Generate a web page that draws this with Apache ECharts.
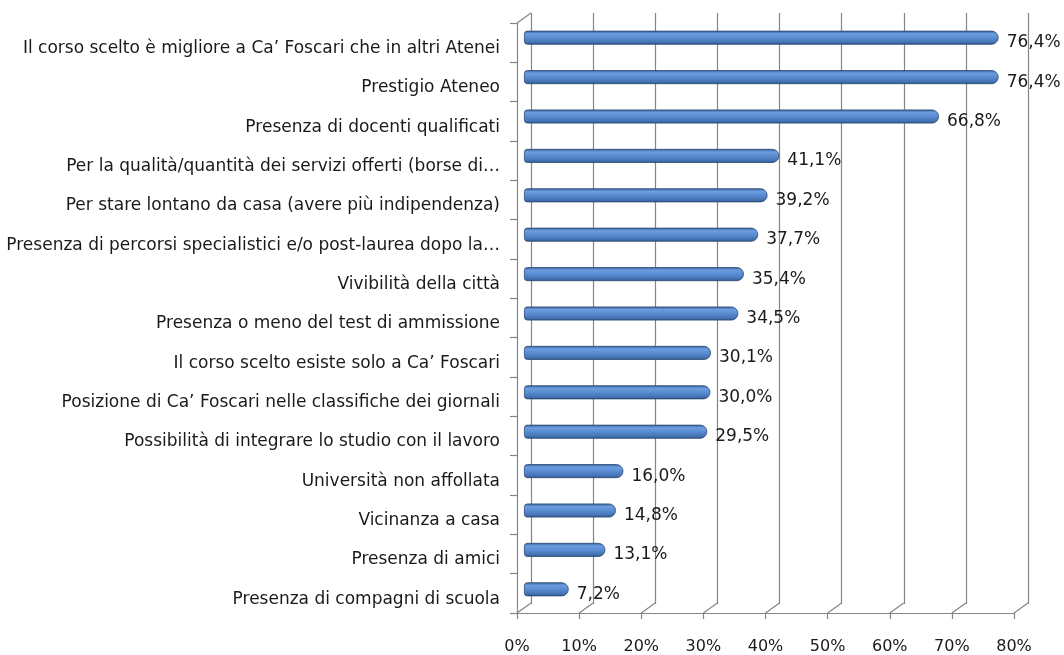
<!DOCTYPE html>
<html>
<head>
<meta charset="utf-8">
<title>Motivi della scelta di Ca' Foscari</title>
<script src="https://cdn.jsdelivr.net/npm/echarts@6/dist/echarts.min.js"></script>
<style>
  html, body { margin: 0; padding: 0; background: #fff; }
  #chart { width: 1064px; height: 655px; }
</style>
</head>
<body>
<div id="chart"></div>
<script>
// categories, top to bottom
const categories = [
    'Il corso scelto è migliore a Ca\u2019 Foscari che in altri Atenei',
    'Prestigio Ateneo',
    'Presenza di docenti qualificati',
    'Per la qualità/quantità dei servizi offerti (borse di…',
    'Per stare lontano da casa (avere più indipendenza)',
    'Presenza di percorsi specialistici e/o post-laurea dopo la…',
    'Vivibilità della città',
    'Presenza o meno del test di ammissione',
    'Il corso scelto esiste solo a Ca\u2019 Foscari',
    'Posizione di Ca\u2019 Foscari nelle classifiche dei giornali',
    'Possibilità di integrare lo studio con il lavoro',
    'Università non affollata',
    'Vicinanza a casa',
    'Presenza di amici',
    'Presenza di compagni di scuola'
];

// percentage of respondents
const values = [76.4, 76.4, 66.8, 41.1, 39.2, 37.7, 35.4, 34.5, 30.1, 30.0, 29.5, 16.0, 14.8, 13.1, 7.2];

// x axis ticks (percent)
const xTicks = [0, 10, 20, 30, 40, 50, 60, 70, 80];

const chart = echarts.init(document.getElementById('chart'));

const axisGray = '#858585';
const textColor = '#1a1a1a';
const fontFamily = 'DejaVu Sans, Verdana, sans-serif';
// 3D depth offset of the back wall
const depthX = 14;
const depthY = -10;

const barGradient = new echarts.graphic.LinearGradient(0, 0, 0, 1, [
    { offset: 0, color: '#345b91' },
    { offset: 0.22, color: '#6c9de0' },
    { offset: 0.5, color: '#5a8cd1' },
    { offset: 0.82, color: '#4574b5' },
    { offset: 1, color: '#2e5284' }
]);

const hiddenValueAxis = (gridIndex, showSplit) => ({
    type: 'value',
    gridIndex: gridIndex,
    min: 0,
    max: 80,
    interval: 10,
    axisLine: { show: false },
    axisTick: { show: false },
    axisLabel: { show: false },
    splitLine: { show: showSplit, lineStyle: { color: axisGray, width: 1.2 } }
});

const hiddenCategoryAxis = (gridIndex) => ({
    type: 'category',
    gridIndex: gridIndex,
    data: categories,
    inverse: true,
    show: false
});

const option = {
    backgroundColor: '#ffffff',
    animation: false,
    textStyle: { fontFamily: fontFamily },
    grid: [
        // front (axes and labels)
        { left: 517, top: 23, width: 497, height: 591 },
        // back wall (gridlines)
        { left: 517 + depthX, top: 23 + depthY, width: 497, height: 591 },
        // bars, halfway in depth
        { left: 524, top: 18, width: 497, height: 591 }
    ],
    xAxis: [
        {
            type: 'value',
            gridIndex: 0,
            min: 0,
            max: 80,
            interval: 10,
            axisLine: { show: true, lineStyle: { color: axisGray, width: 1.2 } },
            axisTick: { show: true, length: 6, lineStyle: { color: axisGray, width: 1.2 } },
            axisLabel: {
                color: textColor,
                fontSize: 16,
                margin: 26,
                formatter: '{value}%'
            },
            splitLine: { show: false }
        },
        hiddenValueAxis(1, true),
        hiddenValueAxis(2, false)
    ],
    yAxis: [
        {
            type: 'category',
            gridIndex: 0,
            data: categories,
            inverse: true,
            axisLine: { show: true, lineStyle: { color: axisGray, width: 1.2 } },
            axisTick: { show: true, length: 7, lineStyle: { color: axisGray, width: 1.2 } },
            axisLabel: {
                color: textColor,
                fontSize: 17,
                margin: 17,
                verticalAlign: 'top',
                lineHeight: 12
            }
        },
        hiddenCategoryAxis(1),
        hiddenCategoryAxis(2)
    ],
    series: [
        {
            // floor diagonals joining the front axis with the back wall
            type: 'custom',
            xAxisIndex: 0,
            yAxisIndex: 0,
            silent: true,
            z: 1,
            data: xTicks,
            renderItem: (params, api) => {
                const cs = params.coordSys;
                const x = api.coord([api.value(0), categories[0]])[0];
                const y = cs.y + cs.height;
                const children = [{
                    type: 'line',
                    shape: { x1: x, y1: y, x2: x + depthX, y2: y + depthY },
                    style: { stroke: axisGray, lineWidth: 1.2 }
                }];
                if (params.dataIndex === 0) {
                    children.push({
                        type: 'line',
                        shape: { x1: x, y1: cs.y, x2: x + depthX, y2: cs.y + depthY },
                        style: { stroke: axisGray, lineWidth: 1.2 }
                    });
                }
                return { type: 'group', children: children };
            }
        },
        {
            type: 'bar',
            xAxisIndex: 2,
            yAxisIndex: 2,
            data: values,
            barWidth: 14,
            z: 3,
            itemStyle: {
                color: barGradient,
                borderColor: '#2b4a73',
                borderWidth: 0.8,
                borderRadius: [3, 7, 7, 3]
            },
            label: {
                show: true,
                position: 'right',
                distance: 8,
                offset: [0, 5],
                color: textColor,
                fontSize: 17,
                formatter: (p) => p.value.toFixed(1).replace('.', ',') + '%'
            }
        }
    ]
};

chart.setOption(option);
</script>
</body>
</html>
